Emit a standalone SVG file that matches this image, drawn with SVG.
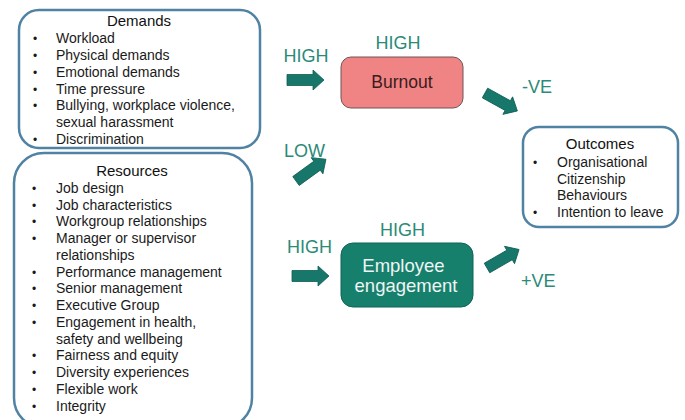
<svg xmlns="http://www.w3.org/2000/svg" width="685" height="420" viewBox="0 0 685 420">
  <defs>
    <style>
      .panel { fill: #ffffff; stroke: #4f82a3; stroke-width: 2.5; }
      .title { font-family: "Liberation Sans", Arial, sans-serif; font-size: 15px; fill: #111111; text-anchor: middle; }
      .item { font-family: "Liberation Sans", Arial, sans-serif; font-size: 14px; fill: #1a1a1a; }
      .bullet { font-family: "Liberation Sans", Arial, sans-serif; font-size: 12px; fill: #1a1a1a; }
      .level { font-family: "Liberation Sans", Arial, sans-serif; font-size: 18px; fill: #2b8a78; }
      .arrow { fill: #16776a; stroke: #0f5e54; stroke-width: 0.8; }
    </style>
    <!-- block arrow pointing right, tail at the origin -->
    <path id="blockArrow" d="M0,-5.5 L26,-5.5 L26,-10 L37,0 L26,10 L26,5.5 L0,5.5 Z"/>
  </defs>

  <rect width="685" height="420" fill="#ffffff"/>

  <g id="demands">
    <rect class="panel" x="19" y="10" width="241" height="138" rx="20"/>
    <text class="title" x="139" y="26">Demands</text>
    <g class="bullet">
      <text x="33" y="43">•</text>
      <text x="33" y="60">•</text>
      <text x="33" y="77">•</text>
      <text x="33" y="94">•</text>
      <text x="33" y="110">•</text>
      <text x="33" y="144">•</text>
    </g>
    <g class="item">
      <text x="56" y="43">Workload</text>
      <text x="56" y="60">Physical demands</text>
      <text x="56" y="77">Emotional demands</text>
      <text x="56" y="94">Time pressure</text>
      <text x="56" y="110">Bullying, workplace violence,</text>
      <text x="56" y="127">sexual harassment</text>
      <text x="56" y="144">Discrimination</text>
    </g>
  </g>

  <g id="resources">
    <rect class="panel" x="14" y="153" width="238" height="275" rx="30"/>
    <text class="title" x="132" y="176">Resources</text>
    <g class="bullet">
      <text x="32" y="193">•</text>
      <text x="32" y="210">•</text>
      <text x="32" y="226">•</text>
      <text x="32" y="243">•</text>
      <text x="32" y="277">•</text>
      <text x="32" y="293">•</text>
      <text x="32" y="310">•</text>
      <text x="32" y="327">•</text>
      <text x="32" y="360">•</text>
      <text x="32" y="377">•</text>
      <text x="32" y="394">•</text>
      <text x="32" y="411">•</text>
    </g>
    <g class="item">
      <text x="56" y="193">Job design</text>
      <text x="56" y="210">Job characteristics</text>
      <text x="56" y="226">Workgroup relationships</text>
      <text x="56" y="243">Manager or supervisor</text>
      <text x="56" y="260">relationships</text>
      <text x="56" y="277">Performance management</text>
      <text x="56" y="293">Senior management</text>
      <text x="56" y="310">Executive Group</text>
      <text x="56" y="327">Engagement in health,</text>
      <text x="56" y="344">safety and wellbeing</text>
      <text x="56" y="360">Fairness and equity</text>
      <text x="56" y="377">Diversity experiences</text>
      <text x="56" y="394">Flexible work</text>
      <text x="56" y="411">Integrity</text>
    </g>
  </g>

  <g id="burnout">
    <rect x="341" y="57" width="122" height="51" rx="10" fill="#f08383" stroke="#6e5555" stroke-width="1"/>
    <text x="402" y="88" font-family="Liberation Sans, Arial, sans-serif" font-size="17.5" fill="#3a1c1c" text-anchor="middle">Burnout</text>
  </g>

  <g id="engagement">
    <rect x="341" y="243" width="132" height="64" rx="12" fill="#17806d" stroke="#0f6456" stroke-width="1"/>
    <text font-family="Liberation Sans, Arial, sans-serif" font-size="18.5" fill="#eef5f3" text-anchor="middle">
      <tspan x="406" y="272">Employee</tspan>
      <tspan x="406" y="292">engagement</tspan>
    </text>
  </g>

  <g id="outcomes">
    <rect class="panel" x="523" y="127" width="155" height="100" rx="16"/>
    <text class="title" x="600" y="149">Outcomes</text>
    <g class="bullet">
      <text x="533" y="167">•</text>
      <text x="533" y="217">•</text>
    </g>
    <g class="item">
      <text x="557" y="167">Organisational</text>
      <text x="557" y="184">Citizenship</text>
      <text x="557" y="200">Behaviours</text>
      <text x="557" y="217">Intention to leave</text>
    </g>
  </g>

  <g id="connectors">
    <use href="#blockArrow" class="arrow" transform="translate(287,80)"/>
    <use href="#blockArrow" class="arrow" transform="translate(485,93) rotate(29)"/>
    <use href="#blockArrow" class="arrow" transform="translate(296,181) rotate(-36)"/>
    <use href="#blockArrow" class="arrow" transform="translate(292,276)"/>
    <use href="#blockArrow" class="arrow" transform="translate(487,268) rotate(-30)"/>
  </g>

  <g id="labels">
    <text class="level" x="306" y="62" text-anchor="middle">HIGH</text>
    <text class="level" x="398" y="49" text-anchor="middle">HIGH</text>
    <text class="level" x="522" y="92.5">-VE</text>
    <text class="level" x="284" y="156.5">LOW</text>
    <text class="level" x="309.5" y="252.5" text-anchor="middle">HIGH</text>
    <text class="level" x="402.5" y="236" text-anchor="middle">HIGH</text>
    <text class="level" x="521" y="287">+VE</text>
  </g>
</svg>
